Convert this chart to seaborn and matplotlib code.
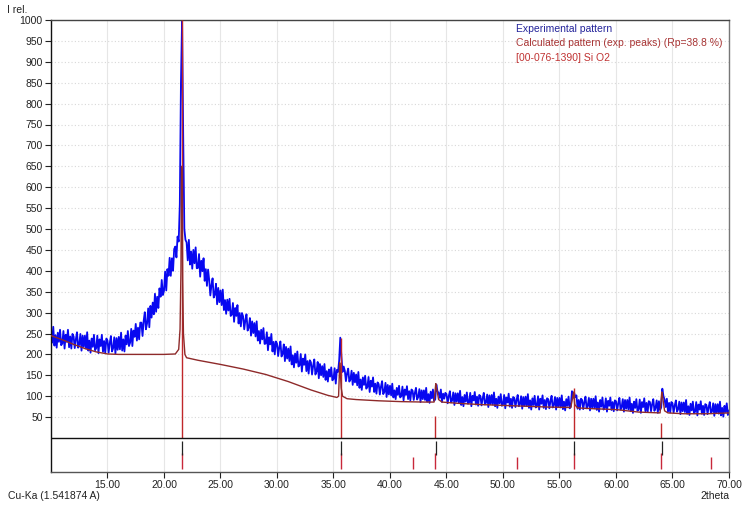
import numpy as np
import pandas as pd
import matplotlib
matplotlib.use("Agg")
import matplotlib.pyplot as plt
import seaborn as sns

# ---------------- data ----------------
# experimental pattern, 2theta from 10.0 to 70.0 in 0.1 steps
exp_start, exp_step = 10.0, 0.1
exp_intensity = [
    258, 228, 266, 221, 246, 216, 252, 230, 259, 222,   # 10
    226, 256, 214, 247, 230, 259, 217, 243, 214, 249,   # 11
    243, 215, 236, 253, 216, 224, 249, 209, 245, 218,   # 12
    245, 214, 253, 209, 233, 204, 238, 218, 247, 210,   # 13
    215, 245, 203, 236, 220, 247, 206, 232, 203, 238,   # 14
    233, 204, 227, 244, 207, 215, 241, 202, 239, 211,   # 15
    242, 212, 252, 209, 236, 207, 245, 224, 256, 220,   # 16
    228, 261, 220, 257, 242, 273, 233, 264, 236, 276,   # 17
    276, 244, 280, 301, 260, 274, 310, 265, 316, 288,   # 18
    324, 296, 345, 302, 338, 311, 358, 338, 378, 342,   # 19
    352, 398, 353, 404, 388, 431, 388, 430, 400, 452,   # 20
    458, 432, 482, 470, 560, 850, 1000, 720, 500, 474,  # 21
    468, 425, 474, 415, 446, 405, 450, 418, 456, 406,   # 22
    407, 440, 386, 424, 399, 430, 376, 404, 364, 403,   # 23
    378, 341, 366, 382, 336, 343, 369, 320, 359, 325,   # 24
    353, 318, 355, 306, 330, 297, 331, 305, 333, 292,   # 25
    295, 323, 278, 311, 292, 318, 274, 299, 267, 299,   # 26
    291, 260, 282, 296, 257, 264, 287, 245, 279, 251,   # 27
    275, 243, 279, 233, 256, 226, 259, 236, 263, 225,   # 28
    226, 253, 210, 241, 224, 249, 207, 230, 200, 231,   # 29
    226, 196, 217, 231, 195, 201, 224, 184, 218, 190,   # 30
    214, 184, 219, 176, 198, 169, 202, 180, 207, 171,   # 31
    174, 201, 159, 190, 175, 200, 160, 184, 154, 186,   # 32
    181, 152, 173, 188, 152, 159, 182, 143, 177, 150,   # 33
    172, 146, 177, 139, 160, 135, 164, 147, 169, 138,   # 34
    141, 167, 130, 163, 158, 185, 240, 195, 158, 171,   # 35
    161, 136, 155, 166, 135, 140, 161, 127, 156, 133,   # 36
    152, 126, 158, 120, 140, 115, 145, 127, 149, 118,   # 37
    122, 146, 110, 137, 123, 145, 110, 130, 106, 133,   # 38
    129, 104, 123, 136, 105, 110, 132, 98, 127, 104,    # 39
    125, 102, 130, 97, 114, 93, 120, 103, 125, 97,      # 40
    100, 123, 90, 116, 103, 124, 93, 112, 90, 116,      # 41
    113, 91, 108, 120, 92, 98, 117, 86, 114, 93,        # 42
    114, 91, 120, 87, 105, 84, 111, 95, 116, 89,        # 43
    92, 128, 112, 108, 96, 116, 86, 106, 94, 108,       # 44
    105, 83, 100, 112, 85, 90, 109, 79, 107, 87,        # 45
    107, 84, 113, 79, 98, 76, 103, 87, 109, 82,         # 46
    85, 108, 76, 101, 90, 110, 80, 99, 77, 103,         # 47
    100, 78, 95, 108, 80, 85, 104, 74, 102, 81,         # 48
    103, 80, 109, 76, 94, 72, 99, 83, 105, 77,          # 49
    80, 103, 71, 97, 85, 106, 75, 94, 72, 98,           # 50
    96, 74, 91, 103, 76, 81, 100, 70, 98, 77,           # 51
    99, 76, 105, 72, 90, 68, 95, 79, 101, 73,           # 52
    77, 100, 68, 94, 82, 102, 72, 91, 69, 95,           # 53
    93, 71, 88, 101, 73, 79, 98, 68, 96, 75,            # 54
    96, 73, 102, 69, 87, 66, 93, 77, 99, 71,            # 55
    75, 112, 96, 108, 98, 102, 70, 91, 68, 94,          # 56
    91, 69, 86, 99, 71, 77, 96, 66, 94, 73,             # 57
    94, 71, 100, 67, 85, 63, 91, 75, 97, 68,            # 58
    72, 95, 63, 89, 77, 97, 67, 86, 64, 90,             # 59
    88, 66, 83, 96, 68, 74, 93, 63, 91, 70,             # 60
    91, 68, 97, 64, 82, 60, 87, 72, 93, 65,             # 61
    69, 92, 60, 86, 74, 95, 64, 84, 62, 88,             # 62
    86, 64, 81, 93, 65, 72, 90, 60, 88, 67,             # 63
    73, 118, 100, 92, 74, 94, 63, 84, 61, 86,           # 64
    83, 61, 78, 90, 63, 69, 87, 57, 85, 64,             # 65
    85, 62, 91, 58, 76, 55, 82, 66, 87, 59,             # 66
    63, 86, 54, 80, 68, 88, 58, 77, 55, 81,             # 67
    79, 57, 74, 86, 59, 64, 83, 53, 81, 60,             # 68
    81, 58, 87, 54, 72, 51, 77, 62, 83, 55,             # 69
    66,                                                 # 70
]

# calculated pattern (exp. peaks)
calc_2theta = [10, 11, 12, 13, 14, 15, 16, 18, 20, 21.0, 21.3, 21.42, 21.5, 21.55,
               21.6, 21.65, 21.72, 21.85, 22.0, 23, 25, 27, 29, 31, 33, 34.5, 35.3,
               35.45, 35.55, 35.6, 35.68, 35.8, 36.2, 37, 39, 41, 43, 43.9, 44.05,
               44.12, 44.3, 44.6, 46, 48, 50, 52, 54, 56.0, 56.15, 56.25, 56.35,
               56.6, 58, 60, 62, 63.9, 64.05, 64.12, 64.3, 64.6, 66, 68, 70]
calc_intensity = [245, 235, 224, 214, 206, 201, 200, 200, 200, 201, 212, 260, 400, 650,
                  640, 380, 250, 200, 192, 186, 176, 165, 152, 135, 115, 102, 97,
                  100, 180, 160, 120, 100, 94, 92, 89, 87, 86, 86, 130,
                  120, 92, 86, 83, 80, 78, 76, 74, 73, 95, 110, 80,
                  72, 70, 68, 62, 60, 110, 100, 65, 60, 58, 58, 60]

# reference card [00-076-1390] Si O2 : line positions
ref_2theta = [21.6, 35.65, 42.04, 43.98, 51.24, 56.28, 63.98, 68.41]
ref_main_height = [1000, 240, 0, 52, 0, 120, 35, 0]       # sticks in main panel
ref_marker_frac = [0.47, 0.47, 0.35, 0.47, 0.35, 0.47, 0.47, 0.35]  # sticks in lower panel
exp_peak_2theta = [21.6, 35.65, 44.05, 56.25, 64.1]

y_ticks = list(range(50, 1001, 50))
x_ticks = [15, 20, 25, 30, 35, 40, 45, 50, 55, 60, 65, 70]

legend_labels = ["Experimental pattern",
                 "Calculated pattern (exp. peaks) (Rp=38.8 %)",
                 "[00-076-1390] Si O2"]

# ---------------- figure ----------------
sns.set_style("white")
plt.rcParams["font.family"] = ["Liberation Sans", "DejaVu Sans"]

W, H = 744, 505
fig = plt.figure(figsize=(W / 100, H / 100), dpi=100)
left, right, top, zero_y, bottom = 51, 729, 20, 438, 472
ax = fig.add_axes([left / W, 1 - bottom / H, (right - left) / W, (bottom - top) / H])

ymax = 1000
ymin = -(bottom - zero_y) * ymax / (zero_y - top)
ax.set_xlim(10, 70)
ax.set_ylim(ymin, ymax)

# grid
for yt in y_ticks:
    ax.axhline(yt, color="#d8d8d8", lw=0.8, ls=(0, (1, 2)), zorder=0)
for xt in x_ticks:
    ax.axvline(xt, color="#e6e6e6", lw=0.8, zorder=0)

exp_x = np.round(exp_start + exp_step * np.arange(len(exp_intensity)), 2)
df_exp = pd.DataFrame({"2theta": exp_x, "I": exp_intensity})
df_calc = pd.DataFrame({"2theta": calc_2theta, "I": calc_intensity})

sns.lineplot(data=df_exp, x="2theta", y="I", ax=ax, color="#0808f0", lw=1.3,
             estimator=None, sort=False, zorder=2)
# main panel sticks of reference
for x, h in zip(ref_2theta, ref_main_height):
    if h > 0:
        ax.vlines(x, 0, h, color="#c0282a", lw=1.0, zorder=3)
sns.lineplot(data=df_calc, x="2theta", y="I", ax=ax, color="#8e2a2a", lw=1.0,
             estimator=None, sort=False, zorder=4)

# zero line separating the stick panel
ax.axhline(0, color="#111111", lw=1.0, zorder=5)

# lower panel markers
panel_h = -ymin
for x, f in zip(ref_2theta, ref_marker_frac):
    ax.vlines(x, ymin + panel_h * 0.08, ymin + panel_h * (0.08 + f), color="#c8283a", lw=1.0, zorder=5)
for x in exp_peak_2theta:
    ax.vlines(x, ymin + panel_h * 0.5, ymin + panel_h * 0.92, color="#222222", lw=0.9, zorder=6)

# axes styling
ax.set_xticks(x_ticks)
ax.set_xticklabels([f"{v:.2f}" for v in x_ticks])
ax.set_yticks(y_ticks)
ax.set_yticklabels([str(v) for v in y_ticks])
ax.tick_params(axis="both", labelsize=7.5, colors="#222222", length=4, width=0.8,
               direction="out", pad=2)
ax.tick_params(axis="y", left=True)
ax.tick_params(axis="x", bottom=True)
ax.set_xlabel("")
ax.set_ylabel("")
for side, col in [("left", "#111111"), ("bottom", "#555555"), ("top", "#444444"), ("right", "#777777")]:
    ax.spines[side].set_visible(True)
    ax.spines[side].set_color(col)
    ax.spines[side].set_linewidth(1.0)

# texts
fig.text(7 / W, 1 - 10 / H, "I rel.", fontsize=7.5, color="#222222", va="center", ha="left")
fig.text(8 / W, 1 - 496 / H, "Cu-Ka (1.541874 A)", fontsize=7.5, color="#222222", va="center", ha="left")
fig.text(729 / W, 1 - 496 / H, "2theta", fontsize=7.5, color="#222222", va="center", ha="right")

leg_colors = ["#23239a", "#a83434", "#c03232"]
for i, (lab, c) in enumerate(zip(legend_labels, leg_colors)):
    fig.text(516 / W, 1 - (29 + 14.5 * i) / H, lab, fontsize=7.5, color=c, va="center", ha="left")

fig.savefig("out.png", dpi=100)
